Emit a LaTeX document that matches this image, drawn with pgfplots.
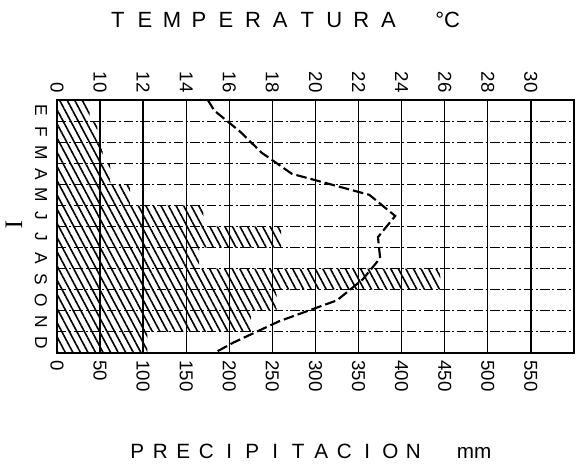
\documentclass[border=0pt]{standalone}
\usepackage{pgfplots}
\pgfplotsset{compat=1.18}
\usepackage{fontspec}
\setmainfont{Liberation Sans}
\newfontfamily\seriffont{Liberation Serif}
\usetikzlibrary{patterns.meta}
\def\LT#1{\makebox[20.3pt]{#1}}
\def\LP#1{\makebox[17.25pt]{#1}}
\begin{document}
\begin{tikzpicture}
\begin{axis}[
  at={(0,0)}, anchor=south west,
  scale only axis, width=387.75pt, height=189.75pt,
  xmin=0, xmax=600, ymin=0, ymax=12,
  xtick={0,50,...,550},
  ytick={0.5,1.5,...,11.5},
  yticklabels={D,N,O,S,A,J,J,M,A,M,F,E},
  minor ytick={1,2,...,11},
  xmajorgrids, yminorgrids, ymajorgrids=false,
  major grid style={black, line width=1pt},
  minor grid style={black, line width=0.8pt, dash pattern=on 7pt off 2pt on 1.5pt off 2pt},
  axis line style={line width=1.3pt},
  major tick length=0pt, minor tick length=0pt,
  /pgf/number format/assume math mode=true,
  xticklabel style={yshift=-2pt, rotate=-90, anchor=west, font=\fontsize{14}{14}\selectfont},
  yticklabel style={xshift=-4pt, rotate=-90, anchor=north, font=\fontsize{13}{13}\selectfont},
]
\addplot[xbar, bar width=1, bar shift=0pt, draw=none,
  pattern={Lines[angle=-62,distance=5pt,line width=1.2pt]}, pattern color=black]
  coordinates {(38,11.5) (47,10.5) (53,9.5) (62,8.5) (85,7.5) (170,6.5)
               (260,5.5) (165,4.5) (445,3.5) (255,2.5) (225,1.5) (105,0.5)};
\end{axis}
\begin{axis}[
  at={(0,0)}, anchor=south west,
  scale only axis, width=387.75pt, height=189.75pt,
  xmin=8, xmax=32, ymin=0, ymax=12,
  axis x line*=top, axis y line=none,
  axis line style={line width=1.3pt},
  xtick={8,10,...,30},
  xticklabels={0,10,12,14,16,18,20,22,24,26,28,30},
  major tick length=0pt,
  xticklabel style={yshift=2pt, rotate=-90, anchor=east, font=\fontsize{14}{14}\selectfont},
]
\addplot[black, line width=1.6pt, dash pattern=on 8pt off 3pt]
  coordinates {(15.0,12) (15.3,11.5) (16.5,10.5) (17.5,9.5) (18.9,8.5) (22.5,7.5)
               (23.7,6.5) (22.9,5.5) (23.0,4.5) (22.2,3.5) (21.0,2.5) (18.3,1.5)
               (16.2,0.5) (15.3,0)};
\end{axis}
\node[anchor=base west, inner sep=0, font=\fontsize{16.5}{16.5}\selectfont] at (35.25pt,243.75pt)
  {\LT{T}\LT{E}\LT{M}\LT{P}\LT{E}\LT{R}\LT{A}\LT{T}\LT{U}\LT{R}\LT{A}\hspace{25pt}°C};
\node[anchor=base west, inner sep=0, font=\fontsize{15.5}{15.5}\selectfont] at (51.4pt,-78.75pt)
  {\LP{P}\LP{R}\LP{E}\LP{C}\LP{I}\LP{P}\LP{I}\LP{T}\LP{A}\LP{C}\LP{I}\LP{O}\LP{N}\hspace{24pt}mm};
\node[rotate=-90, inner sep=0, font=\seriffont\fontsize{19}{19}\selectfont] at (-32.25pt,96pt) {I};
\pgfresetboundingbox
\path[use as bounding box] (-42.75pt,-88.5pt) rectangle (393.75pt,264.75pt);
\end{tikzpicture}
\end{document}
